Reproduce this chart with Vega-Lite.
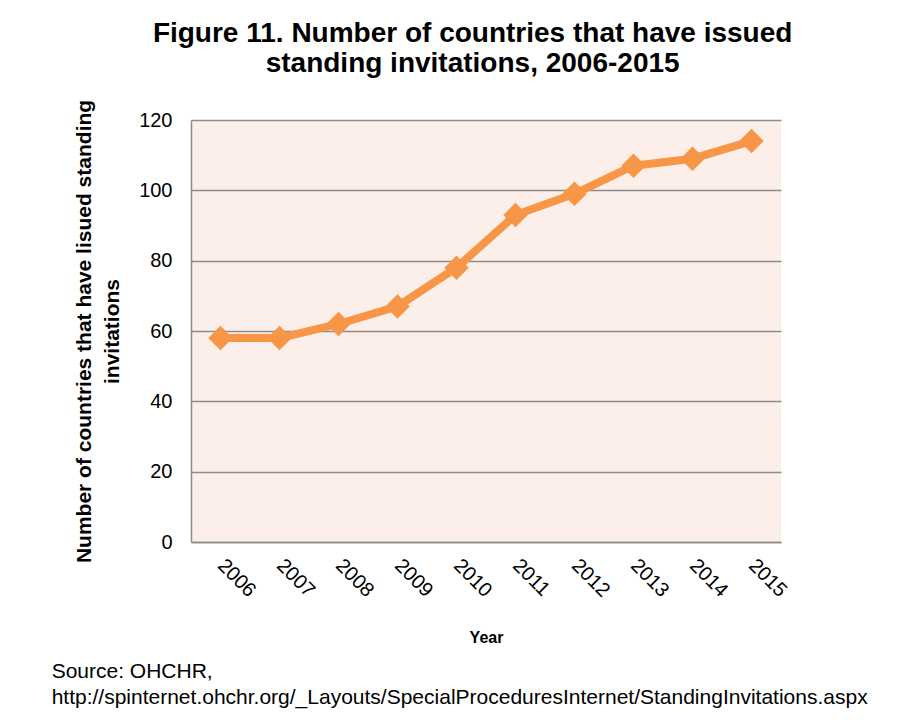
{
  "$schema": "https://vega.github.io/schema/vega-lite/v6.json",
  "padding": {"left": 51, "top": 20, "right": 5, "bottom": 5},
  "background": "white",
  "title": {
    "text": ["Figure 11. Number of countries that have issued", "standing invitations, 2006-2015"],
    "font": "Liberation Sans",
    "fontSize": 28,
    "fontWeight": "bold",
    "color": "#000000",
    "lineHeight": 30,
    "anchor": "middle",
    "offset": 21,
    "dx": 13
  },
  "vconcat": [
    {
      "width": 590,
      "height": 422,
      "title": {
        "text": ["Source: OHCHR,", "http://spinternet.ohchr.org/_Layouts/SpecialProceduresInternet/StandingInvitations.aspx"],
        "orient": "bottom",
        "anchor": "start",
        "frame": "bounds",
        "font": "Liberation Sans",
        "fontSize": 21,
        "fontWeight": "normal",
        "color": "#000000",
        "lineHeight": 26,
        "dx": -22,
        "offset": 15
      },
      "data": {
        "values": [
          {"year": "2006", "count": 58},
          {"year": "2007", "count": 58},
          {"year": "2008", "count": 62},
          {"year": "2009", "count": 67},
          {"year": "2010", "count": 78},
          {"year": "2011", "count": 93},
          {"year": "2012", "count": 99},
          {"year": "2013", "count": 107},
          {"year": "2014", "count": 109},
          {"year": "2015", "count": 114}
        ]
      },
      "encoding": {
        "x": {
          "field": "year",
          "type": "ordinal",
          "scale": {"paddingInner": 0, "paddingOuter": 0},
          "axis": {
            "title": "Year",
            "titleFont": "Liberation Sans",
            "titleFontSize": 16,
            "titleFontWeight": "bold",
            "titleColor": "#000000",
            "titlePadding": 29,
            "labelAngle": 45,
            "labelAlign": "left",
            "labelBaseline": "middle",
            "labelFont": "Liberation Sans",
            "labelFontSize": 20,
            "labelColor": "#000000",
            "labelPadding": 20,
            "ticks": false,
            "domain": true,
            "domainColor": "#8c8c8c",
            "domainWidth": 1.5,
            "grid": false
          }
        },
        "y": {
          "field": "count",
          "type": "quantitative",
          "scale": {"domain": [0, 120]},
          "axis": {
            "title": ["Number of countries that have lisued standing", "invitations"],
            "titleFont": "Liberation Sans",
            "titleFontSize": 21,
            "titleFontWeight": "bold",
            "titleColor": "#000000",
            "titleLineHeight": 28,
            "titlePadding": 16,
            "values": [0, 20, 40, 60, 80, 100, 120],
            "labelFont": "Liberation Sans",
            "labelFontSize": 20,
            "labelColor": "#000000",
            "labelPadding": 19,
            "ticks": false,
            "domain": true,
            "domainColor": "#8c8c8c",
            "domainWidth": 1.5,
            "grid": true,
            "gridColor": "#8c8c8c",
            "gridWidth": 1.5
          }
        }
      },
      "layer": [
        {
          "mark": {"type": "line", "color": "#F79646", "strokeWidth": 8, "strokeJoin": "round"}
        },
        {
          "mark": {"type": "point", "shape": "diamond", "filled": true, "color": "#F79646", "size": 600, "opacity": 1}
        }
      ]
    }
  ],
  "config": {
    "view": {"fill": "#FCEEE8", "stroke": null}
  }
}
